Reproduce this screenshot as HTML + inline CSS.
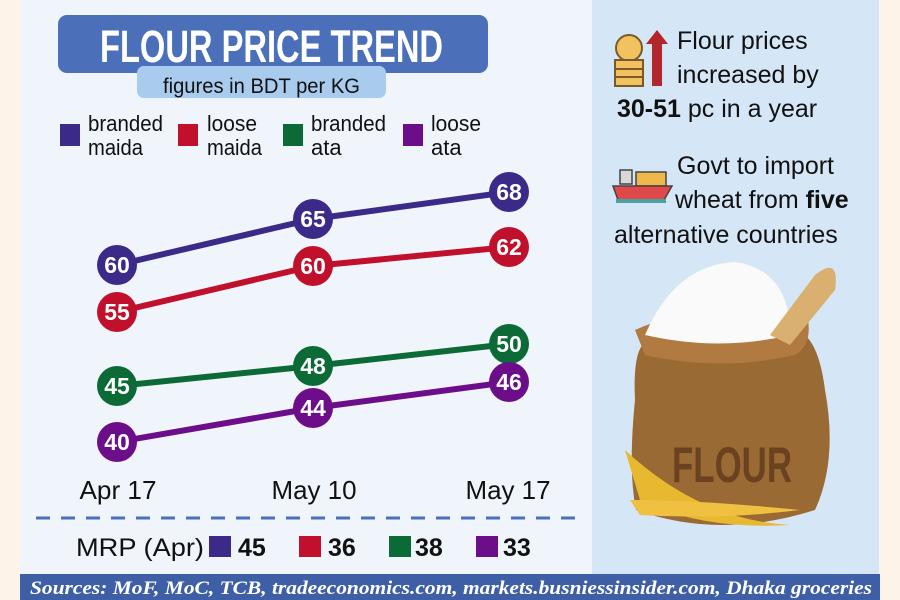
<!DOCTYPE html>
<html><head><meta charset="utf-8"><style>
body{margin:0;width:900px;height:600px;overflow:hidden;background:#fdf3e8;font-family:"Liberation Sans",sans-serif}
</style></head><body>
<svg width="900" height="600" viewBox="0 0 900 600" xmlns="http://www.w3.org/2000/svg" style="position:absolute;left:0;top:0">
<rect x="0" y="0" width="900" height="600" fill="#fdf3e8"/>
<rect x="20" y="0" width="572" height="574" fill="#eff5fb"/>
<rect x="592" y="0" width="287" height="574" fill="#d5e6f6"/>
<!-- title -->
<rect x="58" y="15" width="430" height="58" rx="9" fill="#4b70b9"/>
<text x="100" y="62" font-size="45" font-weight="bold" fill="#fff" textLength="343" lengthAdjust="spacingAndGlyphs">FLOUR PRICE TREND</text>
<rect x="137" y="66" width="249" height="32" rx="7" fill="#a9cbee"/>
<text x="163" y="93" font-size="21" fill="#111" textLength="197" lengthAdjust="spacingAndGlyphs">figures in BDT per KG</text>
<!-- legend -->
<g font-size="22" fill="#111">
<rect x="60" y="124" width="20" height="22" fill="#3b2a88"/>
<text x="88" y="131" textLength="75" lengthAdjust="spacingAndGlyphs">branded</text><text x="88" y="155" textLength="55" lengthAdjust="spacingAndGlyphs">maida</text>
<rect x="178" y="124" width="20" height="22" fill="#c1102c"/>
<text x="207" y="131" textLength="50" lengthAdjust="spacingAndGlyphs">loose</text><text x="207" y="155" textLength="55" lengthAdjust="spacingAndGlyphs">maida</text>
<rect x="283" y="124" width="20" height="22" fill="#0b6a36"/>
<text x="311" y="131" textLength="75" lengthAdjust="spacingAndGlyphs">branded</text><text x="311" y="155">ata</text>
<rect x="403" y="124" width="20" height="22" fill="#6c0e89"/>
<text x="431" y="131" textLength="50" lengthAdjust="spacingAndGlyphs">loose</text><text x="431" y="155">ata</text>
</g>
<!-- lines -->
<g stroke-width="6" fill="none" stroke-linejoin="round">
<polyline points="117,265 313,219 509,192" stroke="#3b2a88"/>
<polyline points="117,312 313,266 509,247" stroke="#c1102c"/>
<polyline points="117,386 313,366 509,344" stroke="#0b6a36"/>
<polyline points="117,442 313,408 509,382" stroke="#6c0e89"/>
</g>
<g font-size="23" font-weight="bold" fill="#fff" text-anchor="middle">
<circle cx="117" cy="265" r="20" fill="#3b2a88"/><text x="117" y="273">60</text>
<circle cx="313" cy="219" r="20" fill="#3b2a88"/><text x="313" y="227">65</text>
<circle cx="509" cy="192" r="20" fill="#3b2a88"/><text x="509" y="200">68</text>
<circle cx="117" cy="312" r="20" fill="#c1102c"/><text x="117" y="320">55</text>
<circle cx="313" cy="266" r="20" fill="#c1102c"/><text x="313" y="274">60</text>
<circle cx="509" cy="247" r="20" fill="#c1102c"/><text x="509" y="255">62</text>
<circle cx="117" cy="386" r="20" fill="#0b6a36"/><text x="117" y="394">45</text>
<circle cx="313" cy="366" r="20" fill="#0b6a36"/><text x="313" y="374">48</text>
<circle cx="509" cy="344" r="20" fill="#0b6a36"/><text x="509" y="352">50</text>
<circle cx="117" cy="442" r="20" fill="#6c0e89"/><text x="117" y="450">40</text>
<circle cx="313" cy="408" r="20" fill="#6c0e89"/><text x="313" y="416">44</text>
<circle cx="509" cy="382" r="20" fill="#6c0e89"/><text x="509" y="390">46</text>
</g>
<g font-size="26" fill="#111" text-anchor="middle">
<text x="118" y="499" textLength="77" lengthAdjust="spacingAndGlyphs">Apr 17</text><text x="314" y="499" textLength="85" lengthAdjust="spacingAndGlyphs">May 10</text><text x="508" y="499" textLength="85" lengthAdjust="spacingAndGlyphs">May 17</text>
</g>
<line x1="36" y1="518" x2="580" y2="518" stroke="#4b70b9" stroke-width="3" stroke-dasharray="14,11"/>
<text x="76" y="556" font-size="25" fill="#111" textLength="128" lengthAdjust="spacingAndGlyphs">MRP (Apr)</text>
<g font-size="25" font-weight="bold" fill="#111">
<rect x="209" y="536" width="22" height="21" fill="#3b2a88"/><text x="238" y="556">45</text>
<rect x="299" y="536" width="22" height="21" fill="#c1102c"/><text x="328" y="556">36</text>
<rect x="389" y="536" width="22" height="21" fill="#0b6a36"/><text x="415" y="556">38</text>
<rect x="476" y="536" width="22" height="21" fill="#6c0e89"/><text x="503" y="556">33</text>
</g>
<!-- bottom bar -->
<rect x="20" y="574" width="860" height="26" fill="#3e5fa6"/>
<text x="30" y="594" font-family="'Liberation Serif',serif" font-style="italic" font-weight="bold" font-size="19" fill="#fff" textLength="842" lengthAdjust="spacingAndGlyphs">Sources: MoF, MoC, TCB, tradeeconomics.com, markets.busniessinsider.com, Dhaka groceries</text>
<!-- right panel icons -->
<circle cx="629" cy="48" r="13" fill="#f1c25e" stroke="#7a5a2a" stroke-width="2"/>
<rect x="615" y="60" width="28" height="26" fill="#f1c25e" stroke="#7a5a2a" stroke-width="2"/>
<line x1="615" y1="69" x2="643" y2="69" stroke="#7a5a2a" stroke-width="2"/>
<line x1="615" y1="77" x2="643" y2="77" stroke="#7a5a2a" stroke-width="2"/>
<polygon points="657,30 668,44 662,44 662,86 652,86 652,44 646,44" fill="#b3262c"/>
<g font-size="25" fill="#111">
<text x="677" y="49">Flour prices</text>
<text x="677" y="83">increased by</text>
<text x="617" y="117"><tspan font-weight="bold">30-51</tspan> pc in a year</text>
<text x="677" y="174">Govt to import</text>
<text x="675" y="208">wheat from <tspan font-weight="bold">five</tspan></text>
<text x="614" y="243">alternative countries</text>
</g>
<rect x="620" y="170" width="12" height="14" fill="#d8d8d8" stroke="#444" stroke-width="1.5"/>
<rect x="636" y="172" width="30" height="14" fill="#f0b84a" stroke="#444" stroke-width="1.5"/>
<path d="M613 186 L672 186 L664 200 L618 200 Z" fill="#e0484a" stroke="#444" stroke-width="1.5"/>
<rect x="616" y="199" width="50" height="4" fill="#4aa3a3"/>
<!-- flour sack -->
<path d="M652 340 Q632 340 635 400 Q628 470 636 510 Q720 540 815 510 Q838 460 825 390 Q818 335 795 330 Z" fill="#9a6a35"/>
<path d="M635 330 Q700 300 808 320 Q812 345 795 355 Q720 372 645 355 Z" fill="#b07a40"/>
<path d="M645 335 Q675 265 735 262 Q790 270 790 335 Q720 352 645 335 Z" fill="#fafafa"/>
<path d="M770 335 L815 275 Q840 255 835 290 L790 345 Z" fill="#d9b070"/>
<text x="732" y="482" text-anchor="middle" font-size="50" font-weight="bold" fill="#6b4220" textLength="120" lengthAdjust="spacingAndGlyphs">FLOUR</text>
<path d="M625 450 Q700 520 790 525 Q700 530 640 500 Z" fill="#e8b830"/>
<path d="M630 500 Q700 500 800 510 Q720 520 640 515 Z" fill="#f0c040"/>
</svg>
</body></html>
